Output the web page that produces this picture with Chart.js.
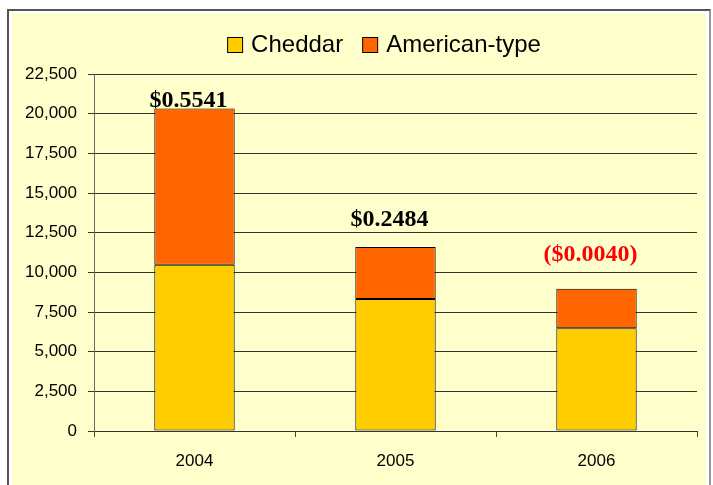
<!DOCTYPE html>
<html>
<head>
<meta charset="utf-8">
<script src="https://cdn.jsdelivr.net/npm/chart.js@4/dist/chart.umd.min.js"></script>
<style>
  html, body { margin: 0; padding: 0; background: #ffffff; width: 713px; height: 485px; overflow: hidden; }
  #frame { position: absolute; left: 7px; top: 9px; width: 700px; height: 490px; border-left: 2px solid #555; border-top: 2px solid #555; border-right: 2px solid #999; background: #ffffff; }
  #fill { position: absolute; left: 12px; top: 13px; width: 694px; height: 480px; background: #FFFFCC; }
  #wrap { position: absolute; left: 0; top: 0; width: 713px; height: 485px; }
</style>
</head>
<body>
<div id="frame"></div>
<div id="fill"></div>
<div id="wrap"><canvas id="c" width="713" height="485"></canvas></div>
<script>
// ---- data ----
const categories = ['2004', '2005', '2006'];
const seriesNames = ['Cheddar', 'American-type'];
const cheddar = [10480, 8320, 6470];
const americanType = [9850, 3280, 2500];   // stacked on top of cheddar (totals ≈ 20,330 / 11,600 / 8,970)
const priceLabels = ['$0.5541', '$0.2484', '($0.0040)'];
const priceLabelLevels = [20450, 12900, 10700]; // value level of each label's baseline
const priceLabelColors = ['#000000', '#000000', '#FF0000'];
const seriesColors = ['#FFCC00', '#FF6600'];
const yMin = 0, yMax = 22500, yStep = 2500;

const priceLabelPlugin = {
  id: 'priceLabels',
  afterDatasetsDraw(chart) {
    const ctx = chart.ctx;
    const x = chart.scales.x, y = chart.scales.y;
    ctx.save();
    ctx.font = 'bold 24px "Liberation Serif", "Times New Roman", serif';
    ctx.textAlign = 'center';
    ctx.textBaseline = 'alphabetic';
    priceLabels.forEach((t, i) => {
      ctx.fillStyle = priceLabelColors[i];
      ctx.fillText(t, x.getPixelForValue(i) - 6, y.getPixelForValue(priceLabelLevels[i]));
    });
    ctx.restore();
  }
};

const legendPlugin = {
  id: 'customLegend',
  afterDraw(chart) {
    const ctx = chart.ctx;
    ctx.save();
    ctx.font = '24px "Liberation Sans", Arial, sans-serif';
    const box = 15, gapText = 9, gapItem = 19;
    const widths = seriesNames.map(n => box + gapText + ctx.measureText(n).width);
    const total = widths.reduce((a, b) => a + b, 0) + gapItem * (seriesNames.length - 1);
    let xPos = 384 - total / 2;
    const baseline = 52;
    seriesNames.forEach((n, i) => {
      ctx.fillStyle = seriesColors[i];
      ctx.fillRect(xPos + 0.5, 37.5, box, box);
      ctx.strokeStyle = '#000';
      ctx.lineWidth = 1;
      ctx.strokeRect(xPos + 0.5, 37.5, box, box);
      ctx.fillStyle = '#000';
      ctx.textBaseline = 'alphabetic';
      ctx.fillText(n, xPos + box + gapText, baseline);
      xPos += widths[i] + gapItem;
    });
    ctx.restore();
  }
};

new Chart(document.getElementById('c'), {
  type: 'bar',
  data: {
    labels: categories,
    datasets: [
      { label: seriesNames[0], data: cheddar, backgroundColor: seriesColors[0], borderColor: '#000', borderWidth: 1, borderSkipped: false },
      { label: seriesNames[1], data: americanType, backgroundColor: seriesColors[1], borderColor: '#000', borderWidth: 1, borderSkipped: false }
    ]
  },
  options: {
    responsive: false,
    animation: false,
    devicePixelRatio: 1,
    layout: { padding: { left: 0, right: 16, top: 74, bottom: 0 } },
    datasets: { bar: { barPercentage: 0.4, categoryPercentage: 1.0 } },
    plugins: { legend: { display: false }, tooltip: { enabled: false } },
    scales: {
      x: {
        stacked: true,
        afterFit(s) { s.height = 54; },
        grid: { display: true, drawOnChartArea: false, drawTicks: true, tickLength: 6, color: '#444', offset: true },
        border: { display: true, color: '#333', width: 1 },
        ticks: { color: '#000', font: { family: '"Liberation Sans", Arial, sans-serif', size: 17 }, padding: 14 }
      },
      y: {
        stacked: true,
        min: yMin, max: yMax,
        afterFit(s) { s.width = 94; },
        grid: { color: '#333', lineWidth: 1, drawTicks: true, tickLength: 6 },
        border: { display: true, color: '#666', width: 1 },
        ticks: {
          stepSize: yStep,
          color: '#000',
          padding: 11,
          font: { family: '"Liberation Sans", Arial, sans-serif', size: 17 },
          callback: v => v.toLocaleString('en-US')
        }
      }
    }
  },
  plugins: [priceLabelPlugin, legendPlugin]
});
</script>
</body>
</html>
